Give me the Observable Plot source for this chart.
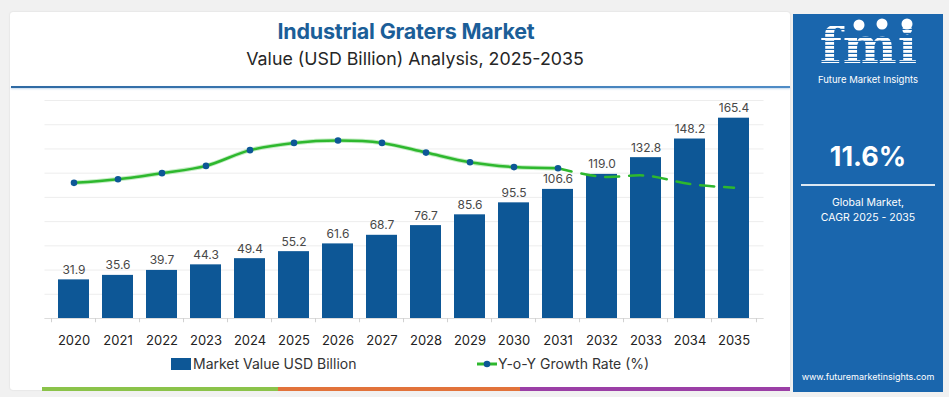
<!DOCTYPE html>
<html>
<head>
<meta charset="utf-8">
<script src="https://cdn.jsdelivr.net/npm/d3@7"></script>
<script src="https://cdn.jsdelivr.net/npm/@observablehq/plot@0.6"></script>
<style>
  html, body { margin: 0; padding: 0; background: #f1f1f1; }
  #root { position: relative; width: 949px; height: 397px; overflow: hidden; font-family: "Inter", "Open Sans", sans-serif; }
  .abs { position: absolute; }
  #card { left: 10px; top: 12px; width: 780px; height: 378px; background: #fff; border-radius: 3px; box-shadow: 0 0 2px rgba(0,0,0,0.12); }
  #title { left: 10px; width: 792px; top: 18px; text-align: center; font-weight: 700; font-size: 21.5px; color: #1b5e98; letter-spacing: -0.2px; }
  #subtitle { left: 10px; width: 810px; top: 48px; text-align: center; font-size: 17.8px; color: #262626; }
  #rule { left: 11px; top: 86px; width: 779px; height: 2px; background: linear-gradient(to right, #2f6aa3, #4f8cc6); box-shadow: 0 1px 2px rgba(80,140,200,0.35); }
  #panel { left: 793px; top: 14px; width: 150px; height: 378px; background: #1a66ad; }
  .ptext { color: #fff; text-align: center; left: 793px; width: 150px; }
  #chart { left: 0px; top: 90px; }
  .leg { font-size: 14px; color: #333; top: 355px; white-space: nowrap; }
</style>
</head>
<body>
<div id="root">
  <div id="card" class="abs"></div>
  <div id="title" class="abs">Industrial Graters Market</div>
  <div id="subtitle" class="abs">Value (USD Billion) Analysis, 2025-2035</div>
  <div id="rule" class="abs"></div>
  <div id="chart" class="abs"></div>

  <div class="abs" style="left:171px;top:358px;width:20px;height:12px;background:#0d5796;"></div>
  <div class="abs leg" style="left:193px;">Market Value USD Billion</div>
  <svg class="abs" style="left:476px;top:357px;" width="22" height="14">
    <line x1="1" y1="7" x2="21" y2="7" stroke="#2eb82e" stroke-width="3"/>
    <circle cx="11" cy="7" r="3.3" fill="#0d5796"/>
  </svg>
  <div class="abs leg" style="left:498px;">Y-o-Y Growth Rate (%)</div>

  <div class="abs" style="left:42px;top:387px;width:236px;height:4px;background:#8bc34a;"></div>
  <div class="abs" style="left:278px;top:387px;width:242px;height:4px;background:#e2733b;"></div>
  <div class="abs" style="left:520px;top:387px;width:270px;height:4px;background:#9b3fa6;"></div>

  <div id="panel" class="abs"></div>
  <svg class="abs" style="left:808px;top:14px;" width="122" height="60">
    <defs>
      <pattern id="stripes" width="4" height="4" patternUnits="userSpaceOnUse">
        <rect width="4" height="2.8" fill="#ffffff"/>
      </pattern>
    </defs>
    <text x="61" y="49" text-anchor="middle" font-family="DejaVu Serif" font-weight="700" font-size="51" fill="url(#stripes)" letter-spacing="1">fmi</text>
    <circle cx="51" cy="11" r="5.5" fill="#fff"/>
    <circle cx="74" cy="10" r="5.5" fill="#fff"/>
    <circle cx="99" cy="10" r="5.5" fill="#fff"/>
  </svg>
  <div class="abs ptext" style="top:75px;font-size:9.5px;line-height:10px;">Future Market Insights</div>
  <div class="abs ptext" style="top:140px;font-size:27px;font-weight:700;">11.6%</div>
  <div class="abs" style="left:801px;top:184px;width:134px;height:1.5px;background:rgba(255,255,255,0.85);"></div>
  <div class="abs ptext" style="top:195px;font-size:10.5px;line-height:15px;">Global Market,<br>CAGR 2025 - 2035</div>
  <div class="abs ptext" style="top:371px;font-size:9px;">www.futuremarketinsights.com</div>
</div>

<script>
const years = ["2020","2021","2022","2023","2024","2025","2026","2027","2028","2029","2030","2031","2032","2033","2034","2035"];
const marketValue = [31.9, 35.6, 39.7, 44.3, 49.4, 55.2, 61.6, 68.7, 76.7, 85.6, 95.5, 106.6, 119.0, 132.8, 148.2, 165.4];
// Y-o-Y growth line as drawn (no axis shown); plotted on the bar axis as growth × growthScale
const growthRate = [11.2, 11.5, 12.0, 12.6, 13.9, 14.5, 14.7, 14.5, 13.7, 12.9, 12.5, 12.4, 11.7, 11.8, 11.1, 10.8];
const growthScale = 10;
const lastActualIndex = 11; // markers & solid line through 2031, dashed afterward
const gridTicks = [0, 20, 40, 60, 80, 100, 120, 140, 160, 180];

const barColor = "#0d5796";
const lineColor = "#2eb82e";
const font = "Inter, 'Open Sans', sans-serif";

const table = years.map((year, i) => ({year, value: marketValue[i], growth: growthRate[i] * growthScale, i}));
const solid = table.filter(d => d.i <= lastActualIndex);
const dashed = table.filter(d => d.i >= lastActualIndex);

const W = 790, ML = 44.5, MR = 26.5;
const step = (W - ML - MR) / years.length;

const chart = Plot.plot({
  width: W,
  height: 262,
  marginLeft: ML,
  marginRight: MR,
  marginTop: 10,
  marginBottom: 34,
  style: {fontFamily: font, fontSize: "13px", color: "#222", background: "transparent", overflow: "visible"},
  x: {type: "band", domain: years, paddingInner: 0.29, paddingOuter: 0.145, label: null, tickSize: 0, tickPadding: 17},
  y: {domain: [0, 180], axis: null},
  marks: [
    Plot.ruleY(gridTicks, {stroke: "#ededed", strokeWidth: 1}),
    Plot.ruleY([0], {stroke: "#dcdcdc"}),
    Plot.ruleX(years, {x: d => d, y1: 0, y2: -3.5, dx: -step / 2, stroke: "#d0d0d0"}),
    Plot.ruleX([years[years.length - 1]], {x: d => d, y1: 0, y2: -3.5, dx: step / 2, stroke: "#d0d0d0"}),
    Plot.barY(table, {x: "year", y: "value", fill: barColor}),
    Plot.text(table, {x: "year", y: "value", text: d => d.value.toFixed(1), lineAnchor: "bottom", dy: -6, fontSize: 12, fill: "#484848"}),
    Plot.line(solid, {x: "year", y: "growth", stroke: "#9be09b", strokeWidth: 4.5, curve: "catmull-rom", strokeOpacity: 0.6}),
    Plot.line(solid, {x: "year", y: "growth", stroke: lineColor, strokeWidth: 2.5, curve: "catmull-rom"}),
    Plot.line(dashed, {x: "year", y: "growth", stroke: lineColor, strokeWidth: 2.5, curve: "catmull-rom", strokeDasharray: "14,10"}),
    Plot.dot(solid, {x: "year", y: "growth", r: 3.3, fill: barColor})
  ]
});
document.getElementById("chart").appendChild(chart);
</script>
</body>
</html>
